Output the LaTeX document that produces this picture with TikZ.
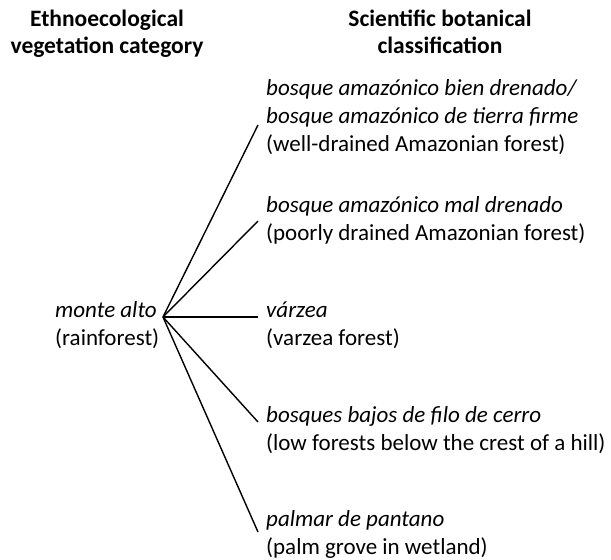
\documentclass[tikz,border=0pt]{standalone}
\usepackage{fontspec}
\setmainfont{Carlito}
\begin{document}
\begin{tikzpicture}[x=1pt,y=-1pt,
  lbl/.style={anchor=base west,inner sep=0pt,font=\fontsize{23}{28}\selectfont},
  hdr/.style={anchor=base,inner sep=0pt,font=\fontsize{23.5}{28}\selectfont\bfseries},
  link/.style={draw=black,line width=1.4pt}]
\useasboundingbox (0,0) rectangle (611,560);
% headers
\node[hdr] (h1a) at (107,26) {Ethnoecological};
\node[hdr] (h1b) at (107,53) {vegetation category};
\node[hdr] (h2a) at (440,26) {Scientific botanical};
\node[hdr] (h2b) at (440,53) {classification};
% left
\node[lbl] (ma) at (55,317) {\itshape monte alto};
\node[lbl] (rf) at (55,345) {(rainforest)};
% right blocks
\node[lbl] (a1) at (266,95) {\itshape bosque amazónico bien drenado/};
\node[lbl] (a2) at (266,123) {\itshape bosque amazónico de tierra firme};
\node[lbl] (a3) at (266,151) {(well-drained Amazonian forest)};
\node[lbl] (b1) at (266,212) {\itshape bosque amazónico mal drenado};
\node[lbl] (b2) at (266,240) {(poorly drained Amazonian forest)};
\node[lbl] (c1) at (266,317) {\itshape várzea};
\node[lbl] (c2) at (266,345) {(varzea forest)};
\node[lbl] (d1) at (266,422) {\itshape bosques bajos de filo de cerro};
\node[lbl] (d2) at (266,450) {(low forests below the crest of a hill)};
\node[lbl] (e1) at (266,526) {\itshape palmar de pantano};
\node[lbl] (e2) at (266,554) {(palm grove in wetland)};
% connector points
\coordinate (hub) at (163,317);
\coordinate (ta) at (258,125);
\coordinate (tb) at (258,221);
\coordinate (tc) at (258,317);
\coordinate (td) at (258,422);
\coordinate (te) at (258,532);
\draw[link] (hub) -- (ta);
\draw[link] (hub) -- (tb);
\draw[link] (hub) -- (tc);
\draw[link] (hub) -- (td);
\draw[link] (hub) -- (te);
\end{tikzpicture}
\end{document}
